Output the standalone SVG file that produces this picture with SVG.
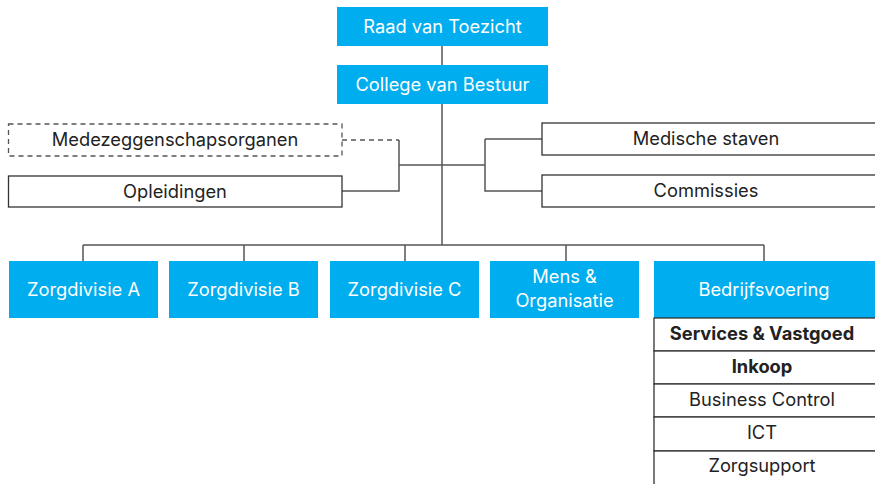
<svg xmlns="http://www.w3.org/2000/svg" width="875" height="484" viewBox="0 0 875 484">
  <style>
    .blue { fill: #00adee; }
    .box { fill: #ffffff; stroke: #333333; stroke-width: 1.3; }
    .dash { fill: #ffffff; stroke: #555555; stroke-width: 1.3; stroke-dasharray: 5 4; }
    .line { fill: none; stroke: #555555; stroke-width: 1.5; }
    .dline { fill: none; stroke: #555555; stroke-width: 1.3; stroke-dasharray: 5 4; }
    text { font-family: "Inter", "Liberation Sans", sans-serif; font-size: 18.3px; text-anchor: middle; dominant-baseline: central; }
    .w { fill: #ffffff; }
    .k { fill: #222222; }
    .b { font-weight: bold; }
  </style>

  <g id="connectors">
    <path class="line" d="M442,46 V65 M442,104 V245"/>
    <path class="line" d="M442,165 H399 M399,140 V191 H342"/>
    <path class="dline" d="M342,140 H399"/>
    <path class="line" d="M442,165 H485 M485,139 H542 M485,139 V191 H542"/>
    <path class="line" d="M83,245 H764 M83,245 V261 M244,245 V261 M405,245 V261 M566,245 V261 M764,245 V261"/>
  </g>

  <g id="raad-van-toezicht">
    <rect class="blue" x="337" y="7" width="211" height="39"/>
    <text class="w" x="442.5" y="25.5">Raad van Toezicht</text>
  </g>
  <g id="college-van-bestuur">
    <rect class="blue" x="337" y="65" width="211" height="39"/>
    <text class="w" x="442.5" y="83.5">College van Bestuur</text>
  </g>

  <g id="medezeggenschapsorganen">
    <rect class="dash" x="8.5" y="124" width="333.5" height="32"/>
    <text class="k" x="175" y="139">Medezeggenschapsorganen</text>
  </g>
  <g id="opleidingen">
    <rect class="box" x="8.5" y="176" width="333.5" height="31"/>
    <text class="k" x="175" y="190.5">Opleidingen</text>
  </g>

  <g id="medische-staven">
    <rect class="box" x="542" y="123" width="340" height="32"/>
    <text class="k" x="706" y="138">Medische staven</text>
  </g>
  <g id="commissies">
    <rect class="box" x="542" y="175" width="340" height="32"/>
    <text class="k" x="706" y="190">Commissies</text>
  </g>

  <g id="zorgdivisie-a">
    <rect class="blue" x="9" y="261" width="149" height="57"/>
    <text class="w" x="83.5" y="288.5">Zorgdivisie A</text>
  </g>
  <g id="zorgdivisie-b">
    <rect class="blue" x="169" y="261" width="149" height="57"/>
    <text class="w" x="243.5" y="288.5">Zorgdivisie B</text>
  </g>
  <g id="zorgdivisie-c">
    <rect class="blue" x="330" y="261" width="149" height="57"/>
    <text class="w" x="404.5" y="288.5">Zorgdivisie C</text>
  </g>
  <g id="mens-organisatie">
    <rect class="blue" x="490" y="261" width="149" height="57"/>
    <text class="w" x="564.5" y="276">Mens &amp;</text>
    <text class="w" x="564.5" y="300">Organisatie</text>
  </g>
  <g id="bedrijfsvoering">
    <rect class="blue" x="654" y="261" width="225" height="57"/>
    <text class="w" x="764" y="288.5">Bedrijfsvoering</text>
  </g>

  <g id="bedrijfsvoering-onderdelen">
    <rect class="box" x="654" y="318" width="225" height="33"/>
    <text class="k b" x="762" y="333">Services &amp; Vastgoed</text>
    <rect class="box" x="654" y="351" width="225" height="33"/>
    <text class="k b" x="762" y="366">Inkoop</text>
    <rect class="box" x="654" y="384" width="225" height="33"/>
    <text class="k" x="762" y="399">Business Control</text>
    <rect class="box" x="654" y="417" width="225" height="34"/>
    <text class="k" x="762" y="432">ICT</text>
    <rect class="box" x="654" y="451" width="225" height="40"/>
    <text class="k" x="762" y="465">Zorgsupport</text>
  </g>
</svg>
